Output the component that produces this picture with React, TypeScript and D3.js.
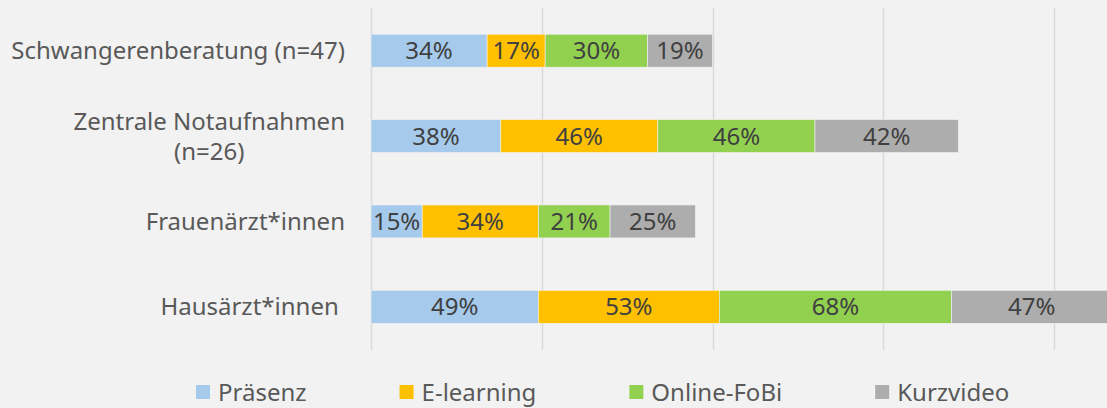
import React, { useEffect, useRef } from "react";
import * as d3 from "d3";

const categories = [
  ["Schwangerenberatung (n=47)"],
  ["Zentrale Notaufnahmen", "(n=26)"],
  ["Frauenärzt*innen"],
  ["Hausärzt*innen "],
];
const seriesNames = ["Präsenz", "E-learning", "Online-FoBi", "Kurzvideo"];
const praesenz = [34, 38, 15, 49];
const eLearning = [17, 46, 34, 53];
const onlineFoBi = [30, 46, 21, 68];
const kurzvideo = [19, 42, 25, 47];
const xTicks = [0, 50, 100, 150, 200];
const colors = ["#A6CAEC", "#FFC000", "#92D050", "#ADADAD"];

const W = 1107;
const H = 408;
const FONT = "'Noto Sans', 'Open Sans', sans-serif";
const FS = 24;

export default function App() {
  const ref = useRef<SVGSVGElement | null>(null);

  useEffect(() => {
    const svg = d3.select(ref.current);
    svg.selectAll("*").remove();
    const series = [praesenz, eLearning, onlineFoBi, kurzvideo];

    const x = d3.scaleLinear().domain([0, 200]).range([371, 1054]);
    const y = d3
      .scaleBand<number>()
      .domain(categories.map((_, i) => i))
      .range([8, 349.5])
      .paddingInner(0.614)
      .paddingOuter(0.307);

    svg.append("rect").attr("width", W).attr("height", H).attr("fill", "#F2F2F2");

    // gridlines
    svg
      .append("g")
      .selectAll("line")
      .data(xTicks)
      .join("line")
      .attr("x1", (d) => Math.round(x(d)) + 0.5)
      .attr("x2", (d) => Math.round(x(d)) + 0.5)
      .attr("y1", 8)
      .attr("y2", 350)
      .attr("stroke", "#D9D9D9")
      .attr("stroke-width", 1.5);

    // bars
    const gBars = svg.append("g");
    categories.forEach((_, ci) => {
      let acc = 0;
      series.forEach((s, si) => {
        const v = s[ci];
        const x0 = x(acc);
        const x1 = x(acc + v);
        gBars
          .append("rect")
          .attr("x", x0)
          .attr("y", y(ci)!)
          .attr("width", x1 - x0)
          .attr("height", y.bandwidth())
          .attr("fill", colors[si])
          .attr("stroke", "#F2F2F2")
          .attr("stroke-width", 0.6);
        gBars
          .append("text")
          .attr("x", (x0 + x1) / 2)
          .attr("y", y(ci)! + y.bandwidth() / 2)
          .attr("dy", "0.36em")
          .attr("text-anchor", "middle")
          .attr("font-family", FONT)
          .attr("font-size", FS)
          .attr("fill", "#404040")
          .text(`${v}%`);
        acc += v;
      });
    });

    // category labels
    const gCat = svg.append("g");
    const lineH = 30;
    categories.forEach((lines, ci) => {
      const t = gCat
        .append("text")
        .attr("font-family", FONT)
        .attr("font-size", FS)
        .attr("fill", "#595959")
        .attr("text-anchor", "middle")
        .style("white-space", "pre");
      const cy = y(ci)! + y.bandwidth() / 2;
      const n = lines.length;
      lines.forEach((l, li) => {
        t.append("tspan")
          .attr("y", cy + (li - (n - 1) / 2) * lineH)
          .attr("dy", "0.36em")
          .text(l);
      });
      let maxW = 0;
      t.selectAll<SVGTSpanElement, unknown>("tspan").each(function () {
        maxW = Math.max(maxW, this.getComputedTextLength());
      });
      t.selectAll("tspan").attr("x", 345 - maxW / 2);
    });

    // legend
    const gLeg = svg.append("g");
    let lx = 196;
    seriesNames.forEach((name, i) => {
      gLeg
        .append("rect")
        .attr("x", lx)
        .attr("y", 385)
        .attr("width", 14)
        .attr("height", 14)
        .attr("fill", colors[i]);
      const t = gLeg
        .append("text")
        .attr("x", lx + 22)
        .attr("y", 392)
        .attr("dy", "0.36em")
        .attr("font-family", FONT)
        .attr("font-size", FS)
        .attr("fill", "#595959")
        .text(name);
      const w = (t.node() as SVGTextElement).getComputedTextLength();
      lx = lx + 22 + w + 93;
    });
  }, []);

  return (
    <div style={{ position: "absolute", left: 0, top: 0 }}>
      <svg ref={ref} width={W} height={H} style={{ display: "block" }} />
    </div>
  );
}
